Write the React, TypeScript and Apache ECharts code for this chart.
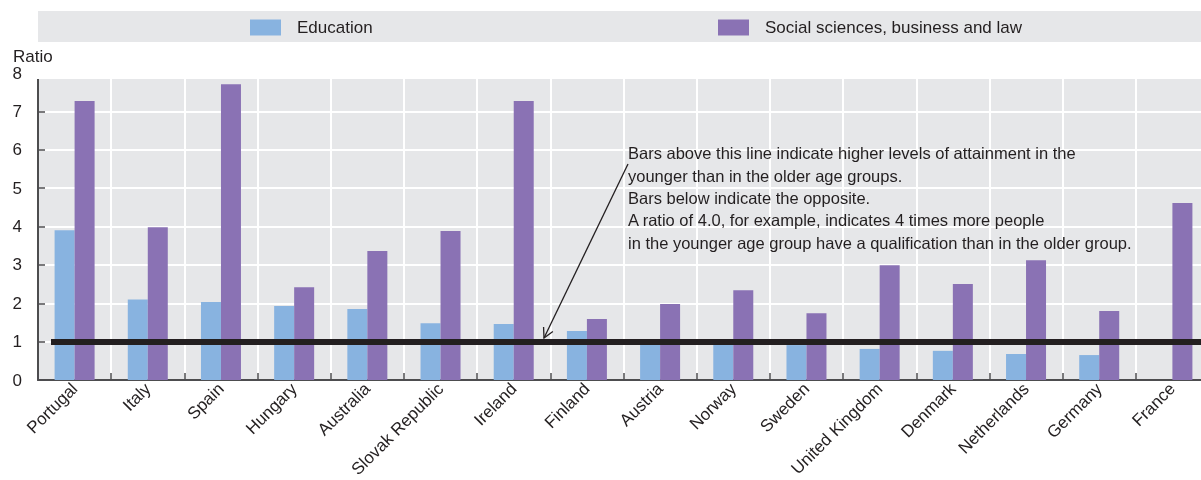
import React, { useEffect, useRef } from "react";
import * as echarts from "echarts";

const categories = [
  "Portugal", "Italy", "Spain", "Hungary", "Australia", "Slovak Republic", "Ireland", "Finland",
  "Austria", "Norway", "Sweden", "United Kingdom", "Denmark", "Netherlands", "Germany", "France",
];
const education = [3.9, 2.1, 2.03, 1.93, 1.85, 1.48, 1.46, 1.28, 0.98, 0.97, 0.91, 0.81, 0.76, 0.68, 0.65, null];
const social = [7.27, 3.98, 7.71, 2.42, 3.36, 3.88, 7.27, 1.59, 1.98, 2.34, 1.74, 2.99, 2.5, 3.12, 1.8, 4.61];
const seriesNames = ["Education", "Social sciences, business and law"];
const yTicks = { min: 0, max: 8, interval: 1 };
const referenceValue = 1;
const noteLines = [
  "Bars above this line indicate higher levels of attainment in the",
  "younger than in the older age groups.",
  "Bars below indicate the opposite.",
  "A ratio of 4.0, for example, indicates 4 times more people",
  "in the younger age group have a qualification than in the older group.",
];

const FONT = '"Liberation Sans", Arial, sans-serif';
const TXT = "#231f20";
const BG = "#e6e7e9";

export default function App() {
  const ref = useRef<HTMLDivElement>(null);
  useEffect(() => {
    if (!ref.current) return;
    const chart = echarts.init(ref.current, null, { renderer: "svg" });

    // arrow geometry (annotation)
    const ax1 = 628, ay1 = 164, ax2 = 544, ay2 = 338;
    const dx = ax2 - ax1, dy = ay2 - ay1;
    const len = Math.sqrt(dx * dx + dy * dy);
    const bx = -dx / len, by = -dy / len;
    const ang = (28 * Math.PI) / 180, hl = 11;
    const c = Math.cos(ang), s = Math.sin(ang);
    const p1 = [ax2 + hl * (bx * c - by * s), ay2 + hl * (bx * s + by * c)];
    const p2 = [ax2 + hl * (bx * c + by * s), ay2 + hl * (-bx * s + by * c)];

    const legendBase = {
      top: 19, padding: 0, itemWidth: 31, itemHeight: 16, icon: "rect", selectedMode: false,
      textStyle: { fontSize: 17, color: TXT, fontFamily: FONT, padding: [0, 0, 0, 11], lineHeight: 16 },
    };

    chart.setOption({
      animation: false,
      textStyle: { fontFamily: FONT, color: TXT },
      legend: [
        { ...legendBase, data: [seriesNames[0]], left: 250 },
        { ...legendBase, data: [seriesNames[1]], left: 718 },
      ],
      grid: {
        left: 38, right: -8, top: 73, bottom: 100, show: true, backgroundColor: BG, borderWidth: 0,
        containLabel: false, outerBoundsMode: "none",
      },
      xAxis: {
        type: "category",
        data: categories,
        axisLine: { show: true, lineStyle: { color: "#4d4d4f", width: 2 } },
        axisTick: { show: true, inside: true, length: 7, lineStyle: { color: "#4d4d4f", width: 1.5 } },
        splitLine: { show: true, lineStyle: { color: "#ffffff", width: 2 } },
        axisLabel: { interval: 0, rotate: 45, fontSize: 17, color: TXT, fontFamily: FONT, margin: 6 },
      },
      yAxis: {
        type: "value",
        min: yTicks.min,
        max: yTicks.max,
        interval: yTicks.interval,
        axisLine: { show: true, lineStyle: { color: "#4d4d4f", width: 2 } },
        axisTick: { show: true, inside: true, length: 7, lineStyle: { color: "#4d4d4f", width: 1.5 } },
        splitLine: { show: true, lineStyle: { color: "#ffffff", width: 2 } },
        axisLabel: { fontSize: 17, color: TXT, fontFamily: FONT, margin: 16 },
      },
      series: [
        {
          name: seriesNames[0], type: "bar", data: education, barWidth: 20, barGap: "0%",
          itemStyle: { color: "#88b3e0" },
        },
        {
          name: seriesNames[1], type: "bar", data: social, barWidth: 20, barGap: "0%",
          itemStyle: { color: "#8a72b4" },
          markLine: {
            silent: true,
            symbol: ["none", "none"],
            label: { show: false },
            lineStyle: { color: TXT, width: 6, type: "solid" },
            data: [[
              { coord: [0, referenceValue], x: 51 },
              { coord: [categories.length - 1, referenceValue], x: 1210 },
            ]],
          },
        },
      ],
      graphic: [
        { type: "rect", z: -1, shape: { x: 38, y: 11, width: 1171, height: 31 }, style: { fill: BG } },
        { type: "rect", z: 50, shape: { x: 30, y: 70, width: 1180, height: 9 }, style: { fill: "#ffffff" } },
        {
          type: "text", z: 60,
          style: { x: 13, y: 56, text: "Ratio", fontSize: 17, fontFamily: FONT, fill: TXT, verticalAlign: "middle" },
        },
        {
          type: "text", z: 60,
          style: {
            x: 628, y: 142, text: noteLines.join("\n"), fontSize: 16.5, fontFamily: FONT, fill: TXT,
            lineHeight: 22.4, verticalAlign: "top",
          },
        },
        { type: "line", z: 60, shape: { x1: ax1, y1: ay1, x2: ax2, y2: ay2 }, style: { stroke: TXT, lineWidth: 1.3 } },
        {
          type: "polyline", z: 60,
          shape: { points: [p1, [ax2, ay2], p2] },
          style: { stroke: TXT, lineWidth: 1.3, fill: "none" },
        },
      ],
    });
    return () => chart.dispose();
  }, []);
  return <div ref={ref} style={{ position: "fixed", left: 0, top: 0, width: 1201, height: 480 }} />;
}
